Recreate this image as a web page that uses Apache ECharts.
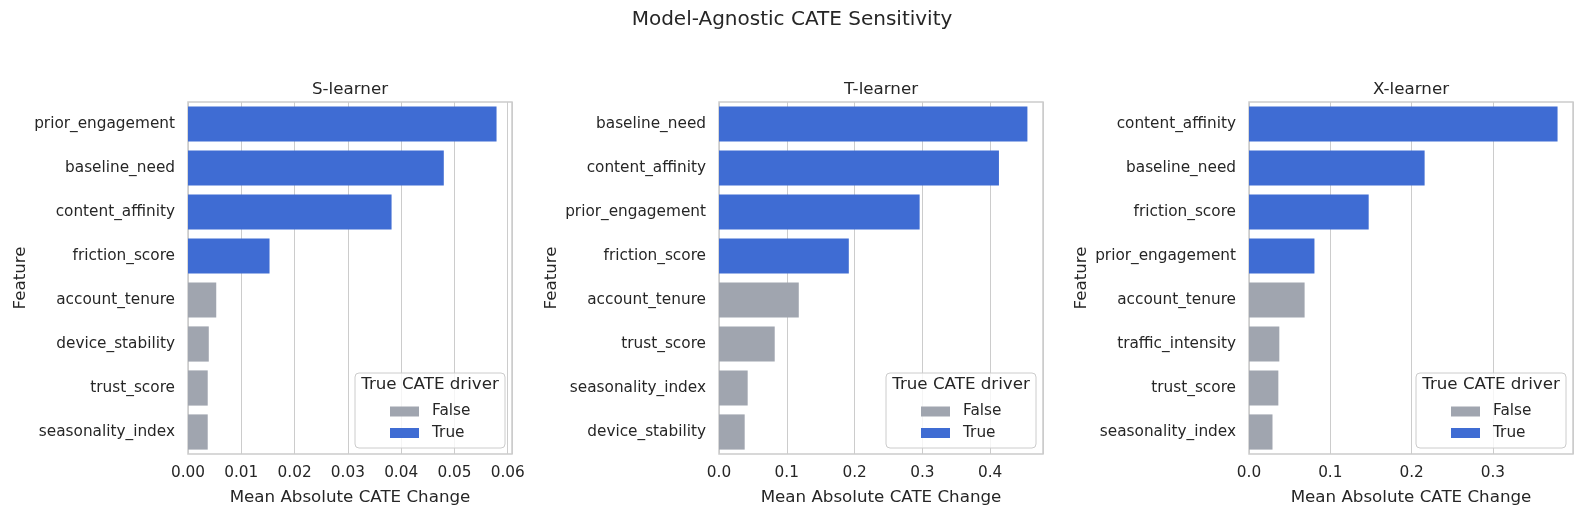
<!DOCTYPE html>
<html>
<head>
<meta charset="utf-8">
<script src="https://cdn.jsdelivr.net/npm/echarts@6/dist/echarts.min.js"></script>
<style>
	html, body { margin: 0; padding: 0; background: #ffffff; }
	#chart { width: 1584px; height: 517px; }
</style>
</head>
<body>
<div id="chart"></div>
<script>
// Data
const sFeatures = ['prior_engagement', 'baseline_need', 'content_affinity', 'friction_score', 'account_tenure', 'device_stability', 'trust_score', 'seasonality_index'];
const sValues = [0.0579, 0.0480, 0.0382, 0.0153, 0.0053, 0.0039, 0.0037, 0.0037];
const sDriver = [true, true, true, true, false, false, false, false];

const tFeatures = ['baseline_need', 'content_affinity', 'prior_engagement', 'friction_score', 'account_tenure', 'trust_score', 'seasonality_index', 'device_stability'];
const tValues = [0.455, 0.413, 0.296, 0.1915, 0.1177, 0.0822, 0.0423, 0.0379];
const tDriver = [true, true, true, true, false, false, false, false];

const xFeatures = ['content_affinity', 'baseline_need', 'friction_score', 'prior_engagement', 'account_tenure', 'traffic_intensity', 'trust_score', 'seasonality_index'];
const xValues = [0.3795, 0.216, 0.1472, 0.0805, 0.0684, 0.0373, 0.0361, 0.0289];
const xDriver = [true, true, true, true, false, false, false, false];

const panelTitles = ['S-learner', 'T-learner', 'X-learner'];
const legendNames = ['False', 'True'];
const legendTitle = 'True CATE driver';
const suptitle = 'Model-Agnostic CATE Sensitivity';
const xAxisName = 'Mean Absolute CATE Change';
const yAxisName = 'Feature';

// Styling
const FONT = 'DejaVu Sans';
const TEXT = '#262626';
const GRAY = '#a0a5af';
const BLUE = '#3f6cd3';
const LINE = '#cccccc';
const TICK_SIZE = 15.3;
const LABEL_SIZE = 16.7;

const panels = [
	{ features: sFeatures, values: sValues, driver: sDriver, max: 0.0608, interval: 0.01, digits: 2, left: 188 },
	{ features: tFeatures, values: tValues, driver: tDriver, max: 0.478, interval: 0.1, digits: 1, left: 719 },
	{ features: xFeatures, values: xValues, driver: xDriver, max: 0.3985, interval: 0.1, digits: 1, left: 1249 }
];

const gridTop = 102;
const gridWidth = 324;
const gridHeight = 352;

let grids = [];
let xAxes = [];
let yAxes = [];
let series = [];
let titles = [];
let legends = [];
let graphics = [];

titles.push({
	text: suptitle,
	left: 792,
	top: 10,
	textAlign: 'center',
	padding: 0,
	textStyle: { fontFamily: FONT, fontSize: 20, fontWeight: 'normal', color: TEXT }
});

panels.forEach(function (p, i) {
	let gridRight = p.left + gridWidth;

	grids.push({
		left: p.left,
		top: gridTop,
		width: gridWidth,
		height: gridHeight,
		show: true,
		borderColor: LINE,
		borderWidth: 1.5,
		backgroundColor: 'transparent'
	});

	xAxes.push({
		type: 'value',
		gridIndex: i,
		min: 0,
		max: p.max,
		interval: p.interval,
		name: xAxisName,
		nameLocation: 'middle',
		nameGap: 35,
		nameTextStyle: { fontFamily: FONT, fontSize: LABEL_SIZE, color: TEXT },
		axisLine: { show: false },
		axisTick: { show: false },
		splitLine: { show: true, lineStyle: { color: LINE, width: 1 } },
		axisLabel: {
			showMaxLabel: false,
			margin: 12,
			fontFamily: FONT,
			fontSize: TICK_SIZE,
			color: TEXT,
			formatter: function (v) { return v.toFixed(p.digits); }
		}
	});

	yAxes.push({
		type: 'category',
		gridIndex: i,
		inverse: true,
		data: p.features,
		name: yAxisName,
		nameLocation: 'middle',
		nameGap: 159,
		nameTextStyle: { fontFamily: FONT, fontSize: LABEL_SIZE, color: TEXT },
		axisLine: { show: false },
		axisTick: { show: false },
		splitLine: { show: false },
		axisLabel: { margin: 13, fontFamily: FONT, fontSize: TICK_SIZE, color: TEXT }
	});

	series.push({
		name: legendNames[0],
		type: 'bar',
		xAxisIndex: i,
		yAxisIndex: i,
		barGap: '-100%',
		barCategoryGap: '20%',
		itemStyle: { color: GRAY },
		data: p.values.map(function (v, k) { return p.driver[k] ? '-' : v; })
	});
	series.push({
		name: legendNames[1],
		type: 'bar',
		xAxisIndex: i,
		yAxisIndex: i,
		barGap: '-100%',
		barCategoryGap: '20%',
		itemStyle: { color: BLUE },
		data: p.values.map(function (v, k) { return p.driver[k] ? v : '-'; })
	});

	titles.push({
		text: panelTitles[i],
		left: p.left + gridWidth / 2,
		top: 81,
		textAlign: 'center',
		padding: 0,
		textStyle: { fontFamily: FONT, fontSize: LABEL_SIZE, fontWeight: 'normal', color: TEXT }
	});

	legends.push({
		data: legendNames,
		orient: 'vertical',
		left: gridRight - 122,
		top: 404,
		padding: 0,
		itemWidth: 29,
		itemHeight: 10,
		itemGap: 6.5,
		icon: 'rect',
		selectedMode: false,
		textStyle: { fontFamily: FONT, fontSize: TICK_SIZE, color: TEXT, padding: [0, 0, 0, 8] }
	});

	// legend frame and its title
	graphics.push({
		type: 'rect',
		z: 3,
		shape: { x: gridRight - 157, y: 373, width: 150, height: 75, r: 4 },
		style: { fill: 'rgba(255,255,255,0.8)', stroke: LINE, lineWidth: 1 }
	});
	graphics.push({
		type: 'text',
		z: 5,
		style: {
			x: gridRight - 82,
			y: 385,
			text: legendTitle,
			textAlign: 'center',
			textVerticalAlign: 'middle',
			font: LABEL_SIZE + 'px "' + FONT + '"',
			fill: TEXT
		}
	});
});

let myChart = echarts.init(document.getElementById('chart'), null, { renderer: 'canvas' });
myChart.setOption({
	animation: false,
	backgroundColor: '#ffffff',
	title: titles,
	grid: grids,
	xAxis: xAxes,
	yAxis: yAxes,
	legend: legends,
	graphic: graphics,
	series: series
});
</script>
</body>
</html>
